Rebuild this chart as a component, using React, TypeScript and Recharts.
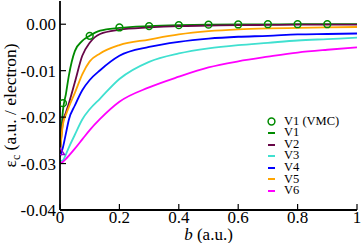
import { ComposedChart, Line, Scatter, XAxis, YAxis, Legend, Label } from "recharts";

const FONT = "Liberation Serif, Times New Roman, serif";

// b grid (a.u.) shared by the model curves
const bGrid = [0, 0.01, 0.02, 0.03, 0.05, 0.075, 0.1, 0.135, 0.2, 0.3, 0.4, 0.5, 0.6, 0.7, 0.8, 0.9, 1.0];
const v1 = [-0.0275, -0.0185, -0.015, -0.011, -0.0058, -0.0036, -0.0025, -0.0014, -0.0008, -0.0004, -0.0002, -0.0001, -0.00005, -0.00003, 0, 0, 0];
const v2 = [-0.0275, -0.021, -0.019, -0.017, -0.0125, -0.0068, -0.004, -0.0021, -0.0012, -0.0007, -0.0004, -0.0003, -0.0002, -0.00015, -0.0001, -0.0001, -0.0001];
const v3 = [-0.0295, -0.0293, -0.028, -0.0265, -0.0238, -0.0205, -0.0183, -0.016, -0.0118, -0.0081, -0.0063, -0.0052, -0.0045, -0.004, -0.0035, -0.0032, -0.0029];
const v4 = [-0.0285, -0.0265, -0.0235, -0.0205, -0.0175, -0.0142, -0.012, -0.0099, -0.0068, -0.0049, -0.0038, -0.0031, -0.0027, -0.0025, -0.0022, -0.0021, -0.002];
const v5 = [-0.0275, -0.0215, -0.0195, -0.0178, -0.0148, -0.0108, -0.008, -0.0063, -0.0045, -0.0033, -0.0022, -0.0015, -0.0011, -0.0009, -0.0008, -0.0007, -0.0006];
const v6 = [-0.03, -0.0296, -0.029, -0.0283, -0.0268, -0.0248, -0.0228, -0.0204, -0.0167, -0.0136, -0.0113, -0.0093, -0.008, -0.007, -0.0061, -0.0055, -0.005];

// VMC reference points
const vmcB = [0.01, 0.1, 0.2, 0.3, 0.4, 0.5, 0.6, 0.7, 0.8, 0.9];
const vmcE = [-0.017, -0.0025, -0.0007, -0.0004, -0.0002, -0.0001, -0.00005, 0, 0, 0];
// exact value at b = 0
const exactB = [0];
const exactE = [-0.0275];

const seriesNames = ["V1", "V2", "V3", "V4", "V5", "V6"];
const seriesColors = ["#008b00", "#670748", "#40e0d0", "#0000ff", "#ffa500", "#ff00ff"];
const seriesValues = [v1, v2, v3, v4, v5, v6];
const vmcName = "V1 (VMC)";

const xTicks = [0, 0.2, 0.4, 0.6, 0.8, 1];
const xMinor = [0.1, 0.3, 0.5, 0.7, 0.9];
const yTicks = [-0.04, -0.03, -0.02, -0.01, 0];
const yMinor = [-0.035, -0.025, -0.015, -0.005];

const rows = bGrid.map((b, i) => {
  const r: Record<string, number> = { b };
  seriesNames.forEach((n, k) => (r[n] = seriesValues[k][i]));
  return r;
});
const vmcRows = vmcB.map((b, i) => ({ b, e: vmcE[i] }));
const exactRows = exactB.map((b, i) => ({ b, e: exactE[i] }));

const legendOrder = [vmcName, ...seriesNames];
const axisStroke = { stroke: "#000", strokeWidth: 1.8 };
const tickStroke = { stroke: "#000", strokeWidth: 1.2 };
const tickFont = { fontFamily: FONT, fontSize: 17, fill: "#000" };

function YTitle(props: any) {
  const vb = props.viewBox;
  const cx = vb.x + 16;
  const cy = vb.y + vb.height / 2;
  return (
    <text x={cx} y={cy} transform={`rotate(-90 ${cx} ${cy})`} textAnchor="middle" fontFamily={FONT} fontSize={17.5} fill="#000">
      ε<tspan dy={4} fontSize={12}>c</tspan>
      <tspan dy={-4}> (a.u. / electron)</tspan>
    </text>
  );
}

function XTitle(props: any) {
  const vb = props.viewBox;
  return (
    <text x={vb.x + vb.width / 2} y={240} textAnchor="middle" fontFamily={FONT} fontSize={17} fill="#000">
      <tspan fontStyle="italic">b</tspan> (a.u.)
    </text>
  );
}

function PanelTag(props: any) {
  const vb = props.viewBox;
  return (
    <text x={vb.x + 8} y={vb.y + 18} fontFamily={FONT} fontSize={13.5} fill="#000">
      (a) <tspan fontStyle="italic">r</tspan>
      <tspan dy={3} fontSize={9.5} fontStyle="italic">s</tspan>
      <tspan dy={-3}> = 0.1</tspan>
    </text>
  );
}

function OpenCircle(props: any) {
  return <circle cx={props.cx} cy={props.cy} r={3.4} fill="none" stroke="#008b00" strokeWidth={1.5} />;
}

function OpenTriangle(props: any) {
  const { cx, cy } = props;
  return <path d={`M${cx},${cy - 4} L${cx + 4.5},${cy + 2.5} L${cx - 4.5},${cy + 2.5} Z`} fill="none" stroke="#9400d3" strokeWidth={1.4} />;
}

function LegendBox(props: any) {
  const items = (props.payload || [])
    .filter((p: any) => legendOrder.includes(p.value))
    .sort((a: any, b: any) => legendOrder.indexOf(a.value) - legendOrder.indexOf(b.value));
  return (
    <div style={{ fontFamily: FONT, fontSize: 12.5, color: "#000" }}>
      {items.map((p: any) => (
        <div key={p.value} style={{ display: "flex", alignItems: "center", height: 11.6 }}>
          <div style={{ width: 12, display: "flex", justifyContent: "center" }}>
            {p.value === vmcName ? (
              <svg width={9} height={9}>
                <circle cx={4.5} cy={4.5} r={3.4} fill="none" stroke="#008b00" strokeWidth={1.5} />
              </svg>
            ) : (
              <div style={{ width: 7, height: 2, background: p.color }} />
            )}
          </div>
          <span style={{ marginLeft: 7, whiteSpace: "nowrap", display: "block", height: 11.6, lineHeight: "11.6px" }}>{p.value}</span>
        </div>
      ))}
    </div>
  );
}

export default function App() {
  return (
    <div style={{ position: "absolute", left: 0, top: 0, width: 362, height: 243, background: "#fff" }}>
      <ComposedChart width={362} height={243} data={rows} margin={{ top: 1, right: 5, bottom: 0, left: 0 }}>
        <XAxis xAxisId="x" dataKey="b" type="number" domain={[0, 1]} allowDataOverflow ticks={xTicks} interval={0}
          fontSize={17} fontFamily={FONT}
          tickSize={-6} tickMargin={7} height={33} axisLine={axisStroke} tickLine={tickStroke} tick={tickFont}
          tickFormatter={(v: number) => String(v)}>
          <Label content={<XTitle />} />
        </XAxis>
        <XAxis xAxisId="xm" dataKey="b" type="number" domain={[0, 1]} allowDataOverflow ticks={xMinor} interval={0}
          tickSize={-3} height={0} axisLine={false} tickLine={tickStroke} tick={false} />
        <XAxis xAxisId="xt" orientation="top" dataKey="b" type="number" domain={[0, 1]} allowDataOverflow ticks={xTicks} interval={0}
          tickSize={-6} height={0} axisLine={axisStroke} tickLine={tickStroke} tick={false}>
          <Label content={<PanelTag />} />
        </XAxis>
        <XAxis xAxisId="xtm" orientation="top" dataKey="b" type="number" domain={[0, 1]} allowDataOverflow ticks={xMinor} interval={0}
          tickSize={-3} height={0} axisLine={false} tickLine={tickStroke} tick={false} />

        <YAxis yAxisId="y" type="number" domain={[-0.04, 0.005]} allowDataOverflow ticks={yTicks} interval={0}
          fontSize={17} fontFamily={FONT}
          tickSize={-6} tickMargin={10} width={60} axisLine={axisStroke} tickLine={tickStroke} tick={tickFont}
          tickFormatter={(v: number) => v.toFixed(2)}>
          <Label content={<YTitle />} />
        </YAxis>
        <YAxis yAxisId="ym" type="number" domain={[-0.04, 0.005]} allowDataOverflow ticks={yMinor} interval={0}
          tickSize={-3} width={0} axisLine={false} tickLine={tickStroke} tick={false} />
        <YAxis yAxisId="yr" orientation="right" type="number" domain={[-0.04, 0.005]} allowDataOverflow ticks={yTicks} interval={0}
          tickSize={-6} width={0} axisLine={axisStroke} tickLine={tickStroke} tick={false} />
        <YAxis yAxisId="yrm" orientation="right" type="number" domain={[-0.04, 0.005]} allowDataOverflow ticks={yMinor} interval={0}
          tickSize={-3} width={0} axisLine={false} tickLine={tickStroke} tick={false} />

        {seriesNames.map((n, k) => (
          <Line key={n} xAxisId="x" yAxisId="y" dataKey={n} name={n} type="monotone" stroke={seriesColors[k]}
            strokeWidth={1.8} dot={false} isAnimationActive={false} />
        ))}
        <Scatter xAxisId="x" yAxisId="y" data={vmcRows} dataKey="e" name={vmcName} fill="#008b00"
          shape={<OpenCircle />} legendType="circle" isAnimationActive={false} />
        <Scatter xAxisId="x" yAxisId="y" data={exactRows} dataKey="e" name="exact" fill="#9400d3"
          shape={<OpenTriangle />} legendType="none" isAnimationActive={false} />

        <Legend layout="vertical" align="center" verticalAlign="middle" content={<LegendBox />}
          wrapperStyle={{ left: 265, top: 115.7, width: 95, height: "auto" }} />
      </ComposedChart>
    </div>
  );
}
